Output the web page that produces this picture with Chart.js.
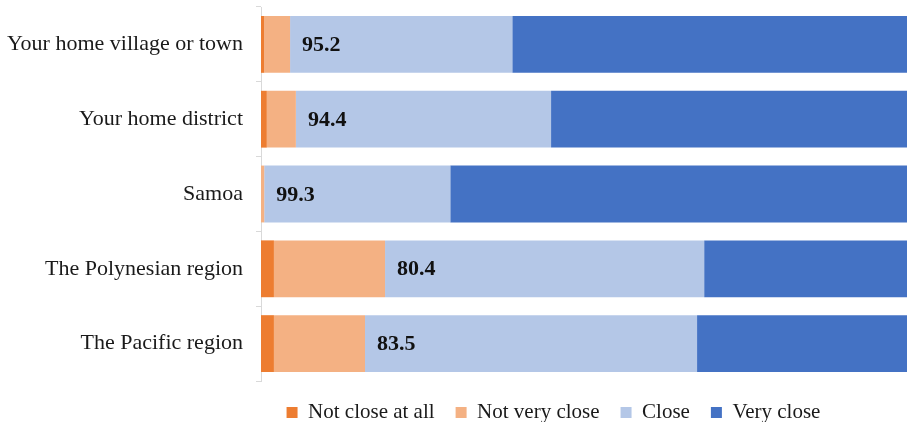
<!DOCTYPE html>
<html>
<head>
<meta charset="utf-8">
<script src="https://cdn.jsdelivr.net/npm/chart.js@4"></script>
<style>
  html, body { margin: 0; padding: 0; background: #fff; }
  #wrap { width: 907px; height: 422px; }
</style>
</head>
<body>
<div id="wrap"><canvas id="closeChart"></canvas></div>
<script>
// categories (top to bottom)
const places = ['Your home village or town', 'Your home district', 'Samoa', 'The Polynesian region', 'The Pacific region'];

// share of respondents, %
const notCloseAtAll = [0.5, 0.9, 0.0, 2.0, 2.0];
const notVeryClose  = [4.0, 4.5, 0.5, 17.2, 14.1];
const close         = [34.4, 39.5, 28.8, 49.4, 51.4];
const veryClose     = [61.1, 55.1, 70.7, 31.4, 32.5];

// close + very close, shown on the bars
const closeTotals = ['95.2', '94.4', '99.3', '80.4', '83.5'];

const serif = "'Liberation Serif', 'DejaVu Serif', serif";

// writes the total at the start of the "Close" segment
const totalLabels = {
  id: 'totalLabels',
  afterDatasetsDraw(chart) {
    const ctx = chart.ctx;
    const meta = chart.getDatasetMeta(2);
    ctx.save();
    ctx.font = 'bold 22px ' + serif;
    ctx.fillStyle = '#111';
    ctx.textAlign = 'left';
    ctx.textBaseline = 'middle';
    meta.data.forEach((bar, i) => {
      ctx.fillText(closeTotals[i], bar.base + 12, bar.y + 1);
    });
    ctx.restore();
  }
};

// legend sits a bit right of centre in the original
const legendShift = {
  id: 'legendShift',
  afterLayout(chart) {
    chart.legend.left += 100;
    chart.legend.right += 100;
  }
};

new Chart(document.getElementById('closeChart'), {
  type: 'bar',
  data: {
    labels: places,
    datasets: [
      { label: 'Not close at all', data: notCloseAtAll, backgroundColor: '#ED7D31' },
      { label: 'Not very close', data: notVeryClose, backgroundColor: '#F4B183' },
      { label: 'Close', data: close, backgroundColor: '#B4C7E7' },
      { label: 'Very close', data: veryClose, backgroundColor: '#4472C4' }
    ]
  },
  options: {
    indexAxis: 'y',
    responsive: true,
    maintainAspectRatio: false,
    animation: false,
    categoryPercentage: 0.76,
    barPercentage: 1,
    layout: { padding: { top: 7, left: 0, right: 0, bottom: -11 } },
    scales: {
      x: {
        stacked: true,
        min: 0,
        max: 100,
        display: false
      },
      y: {
        stacked: true,
        afterFit(scale) {
          scale.width = 261;
          scale.paddingTop = 0;
          scale.paddingBottom = 0;
        },
        grid: {
          display: true,
          offset: true,
          drawOnChartArea: false,
          tickLength: 5,
          color: '#d9d9d9'
        },
        border: { display: true, color: '#d9d9d9' },
        ticks: {
          color: '#1a1a1a',
          padding: 13,
          font: { family: serif, size: 22 }
        }
      }
    },
    plugins: {
      legend: {
        position: 'bottom',
        labels: {
          color: '#1a1a1a',
          boxWidth: 11,
          boxHeight: 11,
          padding: 21,
          font: { family: serif, size: 21 }
        }
      },
      tooltip: { enabled: false }
    }
  },
  plugins: [totalLabels, legendShift]
});
</script>
</body>
</html>
